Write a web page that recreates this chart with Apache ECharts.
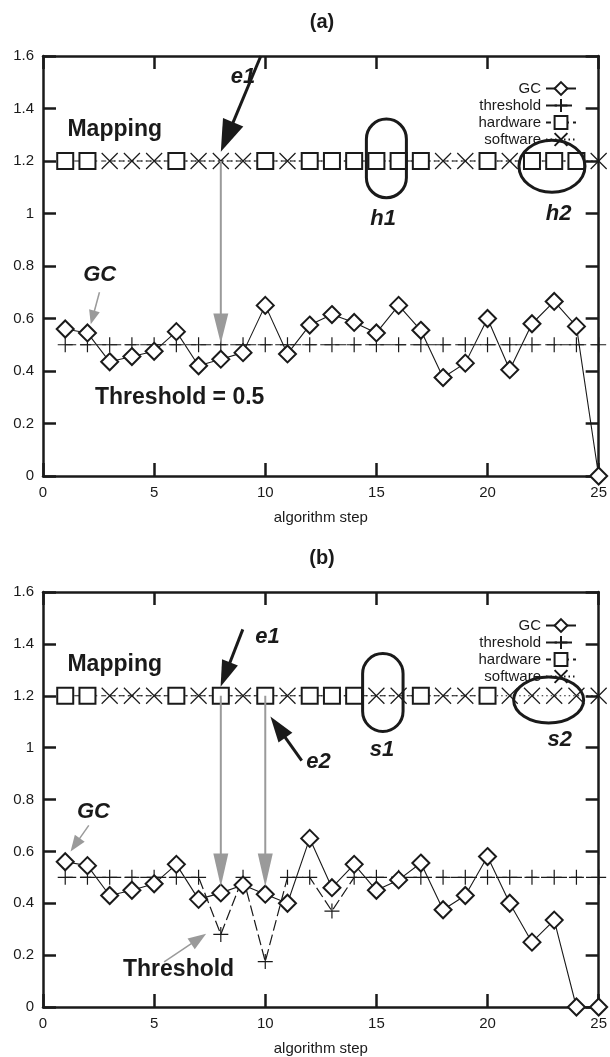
<!DOCTYPE html>
<html><head><meta charset="utf-8">
<script src="https://cdn.jsdelivr.net/npm/echarts@6/dist/echarts.min.js"></script>
<style>html,body{margin:0;padding:0;background:#fff}#c{width:610px;height:1057px}</style>
</head><body><div id="c"></div>
<script>
// ---------- DATA ----------
const steps = [1,2,3,4,5,6,7,8,9,10,11,12,13,14,15,16,17,18,19,20,21,22,23,24,25];
const gcA = [0.56,0.545,0.435,0.455,0.475,0.55,0.42,0.445,0.47,0.65,0.465,0.575,0.615,0.585,0.545,0.65,0.555,0.375,0.43,0.60,0.405,0.58,0.665,0.57,0];
const thresholdA = [0.5,0.5,0.5,0.5,0.5,0.5,0.5,0.5,0.5,0.5,0.5,0.5,0.5,0.5,0.5,0.5,0.5,0.5,0.5,0.5,0.5,0.5,0.5,0.5,0.5];
const mappingA = ['H','H','S','S','S','H','S','S','S','H','S','H','H','H','H','H','H','S','S','H','S','H','H','H','S'];
const gcB = [0.56,0.545,0.43,0.45,0.475,0.55,0.415,0.44,0.47,0.435,0.40,0.65,0.46,0.55,0.45,0.49,0.555,0.375,0.43,0.58,0.40,0.25,0.335,0,0];
const thresholdB = [0.5,0.5,0.5,0.5,0.5,0.5,0.5,0.28,0.5,0.175,0.5,0.5,0.37,0.5,0.5,0.5,0.5,0.5,0.5,0.5,0.5,0.5,0.5,0.5,0.5];
const mappingB = ['H','H','S','S','S','H','S','H','S','H','S','H','H','H','S','S','H','S','S','H','S','S','S','S','S'];
const mappingLevel = 1.2;
const xTicks = {min:0, max:25, interval:5};
const yTicks = {min:0, max:1.6, interval:0.2};
const panelTitles = ['(a)','(b)'];
const seriesNames = ['GC','threshold','hardware','software'];
const xName = 'algorithm step';

// ---------- STYLE ----------
const FONT = "'Liberation Sans', Arial, Helvetica, sans-serif";
const INK = '#1a1a1a';
const GRAY = '#9a9a9a';
const CROSS = 'path://M0,0L10,10M10,0L0,10';
const PLUS = 'path://M5,0L5,10M0,5L10,5';
const grids = [
  {left:43, right:9, top:56, height:420},
  {left:43, right:9, top:592, height:420}
];

const chart = echarts.init(document.getElementById('c'), null, {renderer:'canvas'});

function axesFor(i){
  const line = {onZero:false, lineStyle:{color:INK, width:2.5}};
  const tick = {inside:true, length:13, lineStyle:{color:INK, width:2.5}};
  return {
    x:[
      {gridIndex:i, type:'value', position:'bottom', min:xTicks.min, max:xTicks.max, interval:xTicks.interval,
       axisLine:line, axisTick:tick, splitLine:{show:false},
       axisLabel:{fontSize:15, color:INK, margin:9, fontFamily:FONT},
       name:xName, nameLocation:'middle', nameGap:34, nameTextStyle:{fontSize:15, color:INK, fontFamily:FONT}},
      {gridIndex:i, type:'value', position:'top', min:xTicks.min, max:xTicks.max, interval:xTicks.interval,
       axisLine:line, axisTick:tick, splitLine:{show:false}, axisLabel:{show:false}}
    ],
    y:[
      {gridIndex:i, type:'value', position:'left', min:yTicks.min, max:yTicks.max, interval:yTicks.interval,
       axisLine:line, axisTick:tick, splitLine:{show:false},
       axisLabel:{fontSize:15, color:INK, margin:9, fontFamily:FONT}},
      {gridIndex:i, type:'value', position:'right', min:yTicks.min, max:yTicks.max, interval:yTicks.interval,
       axisLine:line, axisTick:tick, splitLine:{show:false}, axisLabel:{show:false}}
    ]
  };
}

function seriesFor(i, gc, thr, mapping){
  const xi = i*2, yi = i*2;
  const pairs = arr => steps.map((s,k)=>[s, arr[k]]);
  const mapPairs = code => steps.map((s,k)=> mapping[k]===code ? [s, mappingLevel] : [s, null]);
  return [
    {name:seriesNames[2], type:'line', xAxisIndex:xi, yAxisIndex:yi, data:mapPairs('H'), connectNulls:true,
     symbol:'emptyRect', symbolSize:16, clip:false, z:3,
     itemStyle:{color:INK, borderColor:INK, borderWidth:1.2},
     lineStyle:{color:INK, width:1.2, type:[5,4]}},
    {name:seriesNames[3], type:'line', xAxisIndex:xi, yAxisIndex:yi, data:mapPairs('S'), connectNulls:true,
     symbol:CROSS, symbolSize:16, clip:false, z:3,
     itemStyle:{color:INK, borderColor:INK, borderWidth:1.2},
     lineStyle:{color:INK, width:1.2, type:[1.5,3]}},
    {name:seriesNames[1], type:'line', xAxisIndex:xi, yAxisIndex:yi, data:pairs(thr),
     symbol:PLUS, symbolSize:15, clip:false, z:4,
     itemStyle:{color:INK, borderColor:INK, borderWidth:1.2},
     lineStyle:{color:INK, width:1.2, type:[11,4]}},
    {name:seriesNames[0], type:'line', xAxisIndex:xi, yAxisIndex:yi, data:pairs(gc),
     symbol:'emptyDiamond', symbolSize:17, clip:false, z:5,
     itemStyle:{color:INK, borderColor:INK, borderWidth:1.2},
     lineStyle:{color:INK, width:1.1, type:'solid'}}
  ];
}

const a0 = axesFor(0), a1 = axesFor(1);
const legendCommon = {orient:'vertical', align:'right', right:28, itemWidth:30, itemHeight:16, itemGap:2,
  textStyle:{fontSize:15, color:INK, fontFamily:FONT, padding:[0,0,0,0]}, selectedMode:false, data:seriesNames};

chart.setOption({
  animation:false,
  backgroundColor:'#fff',
  textStyle:{fontFamily:FONT},
  grid:grids,
  xAxis:[...a0.x, ...a1.x],
  yAxis:[...a0.y, ...a1.y],
  legend:[Object.assign({top:76}, legendCommon), Object.assign({top:613}, legendCommon)],
  series:[...seriesFor(0,gcA,thresholdA,mappingA), ...seriesFor(1,gcB,thresholdB,mappingB)]
});

// ---------- ANNOTATIONS (placed in data coordinates) ----------
const notes = [
  { // panel (a)
    texts:[
      {t:'Mapping', at:[1.1,1.32], align:'left', style:'bold', size:23},
      {t:'e1', at:[9.0,1.52], align:'center', style:'bolditalic', size:22},
      {t:'h1', at:[15.3,0.98], align:'center', style:'bolditalic', size:22},
      {t:'h2', at:[23.2,1.0], align:'center', style:'bolditalic', size:22},
      {t:'GC', at:[2.55,0.765], align:'center', style:'bolditalic', size:22},
      {t:'Threshold = 0.5', at:[6.15,0.30], align:'center', style:'bold', size:23}
    ],
    arrows:[
      {from:[9.8,1.6], to:[8.0,1.235], color:INK, lw:3, hl:32, hw:22},
      {from:[8,1.2], to:[8,0.505], color:GRAY, lw:2, hl:30, hw:15},
      {from:[2.54,0.70], to:[2.15,0.578], color:GRAY, lw:1.5, hl:14, hw:11}
    ],
    pills:[{x:[14.55,16.35], y:[1.06,1.36]}],
    ellipses:[{c:[22.9,1.18], rx:33, ry:26}]
  },
  { // panel (b)
    texts:[
      {t:'Mapping', at:[1.1,1.32], align:'left', style:'bold', size:23},
      {t:'e1', at:[10.1,1.425], align:'center', style:'bolditalic', size:22},
      {t:'e2', at:[12.4,0.944], align:'center', style:'bolditalic', size:22},
      {t:'s1', at:[15.25,0.99], align:'center', style:'bolditalic', size:22},
      {t:'s2', at:[23.25,1.03], align:'center', style:'bolditalic', size:22},
      {t:'GC', at:[2.27,0.753], align:'center', style:'bolditalic', size:22},
      {t:'Threshold', at:[6.1,0.144], align:'center', style:'bold', size:23}
    ],
    arrows:[
      {from:[8.99,1.456], to:[7.99,1.235], color:INK, lw:3, hl:26, hw:17},
      {from:[11.64,0.95], to:[10.23,1.12], color:INK, lw:3, hl:26, hw:17},
      {from:[8,1.2], to:[8,0.465], color:GRAY, lw:2, hl:33, hw:15},
      {from:[10,1.2], to:[10,0.465], color:GRAY, lw:2, hl:33, hw:15},
      {from:[2.06,0.70], to:[1.24,0.60], color:GRAY, lw:1.5, hl:16, hw:12},
      {from:[5.45,0.174], to:[7.34,0.282], color:GRAY, lw:1.5, hl:18, hw:13}
    ],
    pills:[{x:[14.38,16.2], y:[1.0625,1.3625]}],
    ellipses:[{c:[22.75,1.184], rx:35, ry:23}]
  }
];

function px(i, p){ return chart.convertToPixel({gridIndex:i}, p); }

function arrowEls(p0, p1, color, lw, hl, hw){
  const dx=p1[0]-p0[0], dy=p1[1]-p0[1], len=Math.hypot(dx,dy);
  const ux=dx/len, uy=dy/len, nx=-uy, ny=ux;
  const bx=p1[0]-ux*hl, by=p1[1]-uy*hl;
  return [
    {type:'line', z:50, shape:{x1:p0[0],y1:p0[1],x2:bx+ux*2,y2:by+uy*2}, style:{stroke:color,lineWidth:lw}},
    {type:'polygon', z:50, shape:{points:[[p1[0],p1[1]],[bx+nx*hw/2,by+ny*hw/2],[bx-nx*hw/2,by-ny*hw/2]]}, style:{fill:color}}
  ];
}

const g = [];
notes.forEach((n,i)=>{
  const gr = grids[i];
  g.push({type:'text', z:50, x:gr.left+(610-gr.left-gr.right)/2, y:gr.top-34,
    style:{text:panelTitles[i], font:'bold 20px '+FONT, fill:INK, textAlign:'center', textVerticalAlign:'middle'}});
  n.texts.forEach(t=>{
    const p = px(i,t.at);
    const f = (t.style==='bolditalic'?'italic bold ':'bold ')+t.size+'px '+FONT;
    g.push({type:'text', z:50, x:p[0], y:p[1], style:{text:t.t, font:f, fill:INK, textAlign:t.align, textVerticalAlign:'middle'}});
  });
  n.arrows.forEach(a=>{ g.push(...arrowEls(px(i,a.from), px(i,a.to), a.color, a.lw, a.hl, a.hw)); });
  n.pills.forEach(pl=>{
    const p0 = px(i,[pl.x[0],pl.y[1]]), p1 = px(i,[pl.x[1],pl.y[0]]);
    const w = p1[0]-p0[0], h = p1[1]-p0[1];
    g.push({type:'rect', z:50, shape:{x:p0[0],y:p0[1],width:w,height:h,r:w/2}, style:{fill:null,stroke:INK,lineWidth:3}});
  });
  n.ellipses.forEach(e=>{
    const c = px(i,e.c);
    g.push({type:'ellipse', z:50, shape:{cx:c[0],cy:c[1],rx:e.rx,ry:e.ry}, style:{fill:null,stroke:INK,lineWidth:3}});
  });
});
chart.setOption({graphic:g});
</script>
</body></html>
